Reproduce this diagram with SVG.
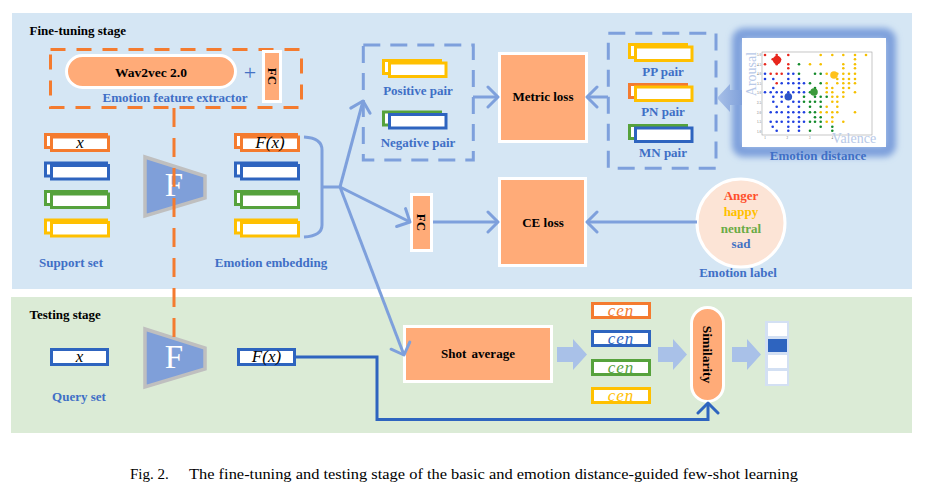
<svg xmlns="http://www.w3.org/2000/svg" width="925" height="490" viewBox="0 0 925 490">
<style>
text{font-family:"Liberation Serif","Times New Roman",serif}
.lbl{font-weight:bold;font-size:13px;fill:#3F6FC6;text-anchor:middle}
.blk{font-weight:bold;font-size:13px;fill:#000;text-anchor:middle}
.stage{font-weight:bold;font-size:13px;fill:#000}
.it{font-style:italic;font-size:17px;text-anchor:middle;fill:#000}
.cen{letter-spacing:1px}
.box{fill:#FFAB78;stroke:#fff;stroke-width:3}
.bar{fill:#fff;stroke-width:3}
.ar{fill:none;stroke:#7EA0DC;stroke-width:3}
.dash{fill:none;stroke:#7EA0DC;stroke-width:3;stroke-dasharray:17 10}
.ba{fill:#A9C1E8}
.tk{font-size:3.2px;fill:#666;text-anchor:end}
.tx{font-size:3.2px;fill:#666;text-anchor:middle}
.ax{font-size:14px;fill:#B8C9E8;text-anchor:middle}
.dots circle{r:1.3px}
</style>
<defs>
<marker id="ch" viewBox="-12 -12 24 24" refX="0" refY="0" markerWidth="24" markerHeight="24" markerUnits="userSpaceOnUse" orient="auto"><path d="M-10,-10 L0,0 L-10,10" fill="none" stroke="#7EA0DC" stroke-width="3" stroke-linecap="round" stroke-linejoin="round"/></marker>
<marker id="chd" viewBox="-12 -12 24 24" refX="0" refY="0" markerWidth="24" markerHeight="24" markerUnits="userSpaceOnUse" orient="auto"><path d="M-10,-10 L0,0 L-10,10" fill="none" stroke="#2E64BF" stroke-width="3" stroke-linecap="round" stroke-linejoin="round"/></marker>
<filter id="blur" x="-20%" y="-20%" width="140%" height="140%"><feGaussianBlur stdDeviation="3"/></filter>
<filter id="sblur" x="-50%" y="-50%" width="200%" height="200%"><feGaussianBlur stdDeviation="0.7"/></filter>
<linearGradient id="lg" x1="0" y1="0" x2="1" y2="0"><stop offset="0" stop-color="#A9C1E8"/><stop offset="1" stop-color="#7FA0DA"/></linearGradient>
</defs>

<g id="panels">
<rect x="12" y="13" width="900" height="276" fill="#D5E6F4"/>
<rect x="11" y="297" width="901" height="136" fill="#DBEBD6"/>
<text class="stage" x="29.5" y="35">Fine-tuning stage</text>
<text class="stage" x="29.5" y="319">Testing stage</text>
</g>

<g id="feature-extractor">
<rect x="50.5" y="49.5" width="251" height="58" fill="none" stroke="#F47B2F" stroke-width="3" stroke-dasharray="15 11"/>
<rect class="box" x="66.5" y="55.5" width="169" height="32" rx="16"/>
<text class="blk" x="151" y="77" style="font-size:13.5px">Wav2vec 2.0</text>
<text x="250" y="80" style="font-size:22px;fill:#4472C4;text-anchor:middle">+</text>
<rect class="box" x="263.5" y="51.5" width="17" height="50"/>
<text class="blk" transform="translate(272,76.5) rotate(90)" y="4.5">FC</text>
<text class="lbl" x="175" y="102">Emotion feature extractor</text>
</g>

<g id="support-set">
<g transform="translate(45.5,134.5)"><rect class="bar" stroke="#F47B2F" width="61" height="13"/><rect class="bar" stroke="#F47B2F" x="6" y="2.5" width="57" height="13.5"/></g>
<g transform="translate(45.5,163)"><rect class="bar" stroke="#2E64BF" width="61" height="13"/><rect class="bar" stroke="#2E64BF" x="6" y="2.5" width="57" height="13.5"/></g>
<g transform="translate(45.5,191.5)"><rect class="bar" stroke="#56A23C" width="61" height="13"/><rect class="bar" stroke="#56A23C" x="6" y="2.5" width="57" height="13.5"/></g>
<g transform="translate(45.5,220)"><rect class="bar" stroke="#FFC000" width="61" height="13"/><rect class="bar" stroke="#FFC000" x="6" y="2.5" width="57" height="13.5"/></g>
<text class="it" x="80" y="148">x</text>
<text class="lbl" x="71" y="267">Support set</text>
</g>

<g id="encoder-train">
<polygon points="145,157 205,176 205,198 145,216" fill="#7F9FD9" stroke="#BFBFBF" stroke-width="3.5"/>
<text x="174" y="196" style="font-size:33px;fill:#fff;text-anchor:middle">F</text>
</g>

<g id="emotion-embedding">
<g transform="translate(235.5,134.5)"><rect class="bar" stroke="#F47B2F" width="61" height="13"/><rect class="bar" stroke="#F47B2F" x="6" y="2.5" width="57" height="13.5"/></g>
<g transform="translate(235.5,163)"><rect class="bar" stroke="#2E64BF" width="61" height="13"/><rect class="bar" stroke="#2E64BF" x="6" y="2.5" width="57" height="13.5"/></g>
<g transform="translate(235.5,191.5)"><rect class="bar" stroke="#56A23C" width="61" height="13"/><rect class="bar" stroke="#56A23C" x="6" y="2.5" width="57" height="13.5"/></g>
<g transform="translate(235.5,220)"><rect class="bar" stroke="#FFC000" width="61" height="13"/><rect class="bar" stroke="#FFC000" x="6" y="2.5" width="57" height="13.5"/></g>
<text class="it" x="270" y="148">F(x)</text>
<text class="lbl" x="271" y="267">Emotion embedding</text>
</g>

<g id="pos-neg-pairs">
<rect class="dash" x="363.3" y="45" width="110" height="115"/>
<g transform="translate(383.5,60.5)"><rect class="bar" stroke="#FFC000" width="57" height="13"/><rect class="bar" stroke="#FFC000" x="6" y="2.5" width="56.5" height="13.5"/></g>
<text class="lbl" x="418" y="95">Positive pair</text>
<g transform="translate(383.5,112)"><rect class="bar" stroke="#56A23C" width="57" height="13"/><rect class="bar" stroke="#2E64BF" x="6" y="2.5" width="56.5" height="13.5"/></g>
<text class="lbl" x="418" y="147">Negative pair</text>
</g>

<g id="metric-loss">
<rect class="box" x="499.5" y="53.5" width="87" height="88"/>
<text class="blk" x="543" y="101">Metric loss</text>
</g>

<g id="pp-pn-mn-pairs">
<rect class="dash" x="608.3" y="33.3" width="107.7" height="135"/>
<g transform="translate(629.5,44.5)"><rect class="bar" stroke="#FFC000" width="57" height="13"/><rect class="bar" stroke="#FFC000" x="6" y="2.5" width="56.5" height="13.5"/></g>
<text class="lbl" x="663" y="76">PP pair</text>
<g transform="translate(629.5,84.5)"><rect class="bar" stroke="#F47B2F" width="57" height="13"/><rect class="bar" stroke="#FFC000" x="6" y="2.5" width="56.5" height="13.5"/></g>
<text class="lbl" x="663" y="116">PN pair</text>
<g transform="translate(629.5,125.5)"><rect class="bar" stroke="#56A23C" width="57" height="13"/><rect class="bar" stroke="#2E64BF" x="6" y="2.5" width="56.5" height="13.5"/></g>
<text class="lbl" x="663" y="157">MN pair</text>
</g>

<g id="emotion-distance">
<rect x="738" y="34" width="152" height="117" rx="6" fill="none" stroke="#7EA0DC" stroke-width="12" filter="url(#blur)"/>
<rect x="742" y="38" width="144" height="109" fill="#fff"/>
<rect x="762" y="52" width="110" height="83" fill="none" stroke="#A0A0A0" stroke-width="0.6"/>
<g class="dots" fill="#E8281E">
<circle cx="765" cy="55" r="1.3"/><circle cx="776.7" cy="55" r="1.3"/><circle cx="788.3" cy="55" r="1.3"/><circle cx="772.7" cy="59.3" r="1.3"/><circle cx="780" cy="59.3" r="1.3"/><circle cx="765" cy="64.3" r="1.3"/><circle cx="776.7" cy="64.3" r="1.3"/><circle cx="788.3" cy="64.3" r="1.3"/><circle cx="788.3" cy="68.3" r="1.3"/><circle cx="770.7" cy="73.7" r="1.3"/><circle cx="776.7" cy="73.7" r="1.3"/><circle cx="781.7" cy="73.7" r="1.3"/><circle cx="776.7" cy="83.3" r="1.3"/>
</g>
<g class="dots" fill="#1F3FE0">
<circle cx="765" cy="73.7" r="1.3"/><circle cx="788.3" cy="73.7" r="1.3"/><circle cx="793.3" cy="73.7" r="1.3"/>
<circle cx="765" cy="79" r="1.3"/><circle cx="773.3" cy="79" r="1.3"/><circle cx="788.3" cy="79" r="1.3"/><circle cx="799" cy="79" r="1.3"/>
<circle cx="781.7" cy="83.3" r="1.3"/><circle cx="788.3" cy="83.3" r="1.3"/><circle cx="793.3" cy="83.3" r="1.3"/><circle cx="799" cy="83.3" r="1.3"/><circle cx="804" cy="83.3" r="1.3"/>
<circle cx="773.3" cy="88" r="1.3"/><circle cx="799" cy="88" r="1.3"/>
<circle cx="765" cy="92.3" r="1.3"/><circle cx="770.7" cy="92.3" r="1.3"/><circle cx="776.7" cy="92.3" r="1.3"/><circle cx="781.7" cy="92.3" r="1.3"/><circle cx="788.3" cy="92.3" r="1.3"/><circle cx="793.3" cy="92.3" r="1.3"/><circle cx="799" cy="92.3" r="1.3"/><circle cx="804" cy="92.3" r="1.3"/>
<circle cx="773.3" cy="96.7" r="1.3"/><circle cx="781.7" cy="96.7" r="1.3"/>
<circle cx="773.3" cy="101.7" r="1.3"/><circle cx="781.7" cy="101.7" r="1.3"/><circle cx="793.3" cy="101.7" r="1.3"/><circle cx="799" cy="101.7" r="1.3"/>
<circle cx="776.7" cy="106.7" r="1.3"/><circle cx="788.3" cy="106.7" r="1.3"/><circle cx="799" cy="106.7" r="1.3"/>
<circle cx="770.7" cy="112.3" r="1.3"/><circle cx="776.7" cy="112.3" r="1.3"/><circle cx="781.7" cy="112.3" r="1.3"/><circle cx="788.3" cy="112.3" r="1.3"/><circle cx="793.3" cy="112.3" r="1.3"/><circle cx="799" cy="112.3" r="1.3"/><circle cx="804" cy="112.3" r="1.3"/>
<circle cx="788.3" cy="117.3" r="1.3"/><circle cx="799" cy="117.3" r="1.3"/>
<circle cx="770.7" cy="121.7" r="1.3"/><circle cx="776.7" cy="121.7" r="1.3"/><circle cx="781.7" cy="121.7" r="1.3"/><circle cx="788.3" cy="121.7" r="1.3"/><circle cx="793.3" cy="121.7" r="1.3"/><circle cx="799" cy="121.7" r="1.3"/><circle cx="804" cy="121.7" r="1.3"/>
<circle cx="772.7" cy="126.7" r="1.3"/><circle cx="788.3" cy="126.7" r="1.3"/><circle cx="799" cy="126.7" r="1.3"/>
<circle cx="776.7" cy="130.7" r="1.3"/><circle cx="788.3" cy="130.7" r="1.3"/><circle cx="799" cy="130.7" r="1.3"/>
</g>
<g class="dots" fill="#138A2B">
<circle cx="799" cy="64.3" r="1.3"/><circle cx="799" cy="73.7" r="1.3"/><circle cx="815" cy="73.7" r="1.3"/><circle cx="820.7" cy="73.7" r="1.3"/>
<circle cx="810" cy="83.3" r="1.3"/><circle cx="820.7" cy="83.3" r="1.3"/><circle cx="815" cy="88" r="1.3"/><circle cx="810" cy="92.3" r="1.3"/>
<circle cx="804" cy="96.7" r="1.3"/><circle cx="815" cy="96.7" r="1.3"/><circle cx="820.7" cy="96.7" r="1.3"/><circle cx="826.7" cy="96.7" r="1.3"/>
<circle cx="804" cy="101.7" r="1.3"/><circle cx="810" cy="101.7" r="1.3"/><circle cx="815" cy="101.7" r="1.3"/><circle cx="820.7" cy="101.7" r="1.3"/>
<circle cx="810" cy="106.7" r="1.3"/><circle cx="820.7" cy="106.7" r="1.3"/><circle cx="810" cy="112.3" r="1.3"/><circle cx="815" cy="112.3" r="1.3"/>
<circle cx="815" cy="117.3" r="1.3"/><circle cx="820.7" cy="117.3" r="1.3"/>
<circle cx="810" cy="121.7" r="1.3"/><circle cx="815" cy="121.7" r="1.3"/><circle cx="820.7" cy="121.7" r="1.3"/>
<circle cx="820.7" cy="126.7" r="1.3"/><circle cx="832.3" cy="126.7" r="1.3"/><circle cx="810" cy="130.7" r="1.3"/><circle cx="832.3" cy="130.7" r="1.3"/>
</g>
<g class="dots" fill="#F5C000">
<circle cx="820.7" cy="55" r="1.3"/><circle cx="832.3" cy="55" r="1.3"/><circle cx="843.3" cy="55" r="1.3"/><circle cx="855" cy="55" r="1.3"/><circle cx="866" cy="55" r="1.3"/>
<circle cx="855" cy="59.3" r="1.3"/>
<circle cx="810" cy="64.3" r="1.3"/><circle cx="820.7" cy="64.3" r="1.3"/><circle cx="843.3" cy="64.3" r="1.3"/><circle cx="855" cy="64.3" r="1.3"/>
<circle cx="843.3" cy="68.3" r="1.3"/><circle cx="855" cy="68.3" r="1.3"/>
<circle cx="826.7" cy="73.7" r="1.3"/><circle cx="837.3" cy="73.7" r="1.3"/><circle cx="843.3" cy="73.7" r="1.3"/><circle cx="849" cy="73.7" r="1.3"/><circle cx="855" cy="73.7" r="1.3"/>
<circle cx="837.3" cy="79" r="1.3"/><circle cx="843.3" cy="79" r="1.3"/><circle cx="849" cy="79" r="1.3"/><circle cx="855" cy="79" r="1.3"/>
<circle cx="826.7" cy="83.3" r="1.3"/><circle cx="837.3" cy="83.3" r="1.3"/><circle cx="843.3" cy="83.3" r="1.3"/><circle cx="849" cy="83.3" r="1.3"/><circle cx="855" cy="83.3" r="1.3"/>
<circle cx="826.7" cy="88" r="1.3"/><circle cx="832.3" cy="88" r="1.3"/><circle cx="843.3" cy="88" r="1.3"/><circle cx="849" cy="88" r="1.3"/>
<circle cx="826.7" cy="92.3" r="1.3"/><circle cx="832.3" cy="92.3" r="1.3"/><circle cx="843.3" cy="92.3" r="1.3"/><circle cx="855" cy="92.3" r="1.3"/>
<circle cx="832.3" cy="96.7" r="1.3"/><circle cx="837.3" cy="96.7" r="1.3"/><circle cx="843.3" cy="96.7" r="1.3"/>
<circle cx="832.3" cy="101.7" r="1.3"/><circle cx="837.3" cy="101.7" r="1.3"/>
<circle cx="826.7" cy="106.7" r="1.3"/><circle cx="837.3" cy="106.7" r="1.3"/>
<circle cx="820.7" cy="112.3" r="1.3"/><circle cx="826.7" cy="112.3" r="1.3"/><circle cx="832.3" cy="112.3" r="1.3"/><circle cx="837.3" cy="112.3" r="1.3"/><circle cx="855" cy="112.3" r="1.3"/>
<circle cx="832.3" cy="117.3" r="1.3"/>
<circle cx="826.7" cy="121.7" r="1.3"/><circle cx="832.3" cy="121.7" r="1.3"/><circle cx="843.3" cy="121.7" r="1.3"/>
</g>
<g filter="url(#sblur)">
<circle cx="777" cy="60" r="4.2" fill="#E8281E"/>
<circle cx="788.3" cy="96.7" r="3.8" fill="#2E55C8"/>
<circle cx="814" cy="92" r="3.8" fill="#3B9A3B"/>
<circle cx="834" cy="75" r="3.8" fill="#FFC21E"/>
</g>
<text class="tk" x="761" y="56">5.0</text><text class="tk" x="761" y="65.6">4.5</text><text class="tk" x="761" y="75.2">4.0</text><text class="tk" x="761" y="84.8">3.5</text><text class="tk" x="761" y="94.4">3.0</text><text class="tk" x="761" y="104">2.5</text><text class="tk" x="761" y="113.6">2.0</text><text class="tk" x="761" y="123.2">1.5</text><text class="tk" x="761" y="132.8">1.0</text>
<text class="tx" x="765" y="139">1</text><text class="tx" x="787.4" y="139">2</text><text class="tx" x="809.8" y="139">3</text><text class="tx" x="832.2" y="139">4</text>
<text class="ax" transform="translate(756,74) rotate(-90)">Arousal</text>
<text class="ax" x="854" y="143">Valence</text>
<text class="lbl" x="818" y="160">Emotion distance</text>
</g>

<g id="fc-head">
<rect class="box" x="411.5" y="194.5" width="20" height="56"/>
<text class="blk" transform="translate(421.5,222.5) rotate(90)" y="4.5">FC</text>
</g>

<g id="ce-loss">
<rect class="box" x="499.5" y="178.5" width="86" height="87"/>
<text class="blk" x="543" y="227">CE loss</text>
</g>

<g id="emotion-label">
<circle cx="741" cy="223" r="44" fill="#FCE4D6" stroke="#fff" stroke-width="3"/>
<text class="blk" x="741" y="200" style="fill:#FF4F2A">Anger</text>
<text class="blk" x="741" y="216" style="fill:#FFC000">happy</text>
<text class="blk" x="741" y="233" style="fill:#6AAB45">neutral</text>
<text class="blk" x="741" y="248" style="fill:#4472C4">sad</text>
<text class="lbl" x="738" y="277">Emotion label</text>
</g>

<g id="query-set">
<rect class="bar" stroke="#2E64BF" x="51.5" y="349.5" width="56" height="15"/>
<text class="it" x="79.5" y="362">x</text>
<text class="lbl" x="79" y="401">Query set</text>
</g>

<g id="encoder-test">
<polygon points="145,329 205,348 205,369 145,387" fill="#7F9FD9" stroke="#BFBFBF" stroke-width="3.5"/>
<text x="174" y="368" style="font-size:33px;fill:#fff;text-anchor:middle">F</text>
</g>

<g id="query-embedding">
<rect class="bar" stroke="#2E64BF" x="238.5" y="349.5" width="56" height="15"/>
<text class="it" x="266.5" y="362">F(x)</text>
</g>

<g id="shot-average">
<rect class="box" x="404.5" y="326.5" width="147" height="55"/>
<text class="blk" x="478" y="358" style="word-spacing:2px">Shot average</text>
</g>

<g id="centroids">
<rect class="bar" stroke="#F47B2F" x="592.5" y="303.5" width="57" height="14"/>
<text class="it cen" x="621" y="316" style="fill:#F47B2F">cen</text>
<rect class="bar" stroke="#2E64BF" x="592.5" y="331.5" width="57" height="14"/>
<text class="it cen" x="621" y="344" style="fill:#2E64BF">cen</text>
<rect class="bar" stroke="#56A23C" x="592.5" y="360.5" width="57" height="14"/>
<text class="it cen" x="621" y="373" style="fill:#56A23C">cen</text>
<rect class="bar" stroke="#FFC000" x="592.5" y="388.5" width="57" height="14"/>
<text class="it cen" x="621" y="401" style="fill:#FFC000">cen</text>
</g>

<g id="similarity">
<rect class="box" x="691.5" y="307.5" width="32" height="94" rx="16"/>
<text class="blk" transform="translate(707.5,354.5) rotate(90)" y="4.5" style="font-size:13.5px">Similarity</text>
</g>

<g id="prediction">
<rect x="765" y="321" width="24" height="65" fill="#D3E0F3"/>
<rect x="768" y="323" width="19" height="13" fill="#fff"/>
<rect x="768" y="339" width="19" height="13" fill="#2E64BF"/>
<rect x="768" y="355" width="19" height="13" fill="#fff"/>
<rect x="768" y="371" width="19" height="13" fill="#fff"/>
</g>

<g id="connectors">
<line x1="174" y1="108" x2="174" y2="338" stroke="#F47B2F" stroke-width="3" stroke-dasharray="19 11"/>
<path class="ar" d="M304,137 Q322,138 322,150 L322,225 Q322,236 304,237 M322,187 L340,187"/>
<line class="ar" x1="340" y1="187" x2="363" y2="101" marker-end="url(#ch)"/>
<line class="ar" x1="340" y1="187" x2="410" y2="222" marker-end="url(#ch)"/>
<line class="ar" x1="340" y1="187" x2="404" y2="355" marker-end="url(#ch)"/>
<line class="ar" x1="473" y1="97" x2="498" y2="97" marker-end="url(#ch)"/>
<line class="ar" x1="608" y1="97" x2="587" y2="97" marker-end="url(#ch)"/>
<line class="ar" x1="433" y1="222" x2="498" y2="222" marker-end="url(#ch)"/>
<line class="ar" x1="697" y1="222" x2="587" y2="222" marker-end="url(#ch)"/>
<polygon points="742,90 730,90 730,84 717,98 730,112 730,105 742,105" fill="url(#lg)"/>
<polyline points="296,357 377,357 377,419.5 708,419.5 708,403" fill="none" stroke="#2E64BF" stroke-width="3" marker-end="url(#chd)"/>
<polygon class="ba" points="557,347 573,347 573,339 587,354.5 573,370 573,362 557,362"/>
<polygon class="ba" points="658,347 673,347 673,339 687,354.5 673,370 673,362 658,362"/>
<polygon class="ba" points="732,347 747,347 747,339 761,354.5 747,370 747,362 732,362"/>
</g>

<g id="caption">
<text x="130" y="479" style="font-size:15px;fill:#000">Fig. 2.</text>
<text x="189" y="479" style="font-size:15px;fill:#000" textLength="609" lengthAdjust="spacingAndGlyphs">The fine-tuning and testing stage of the basic and emotion distance-guided few-shot learning</text>
</g>
</svg>
